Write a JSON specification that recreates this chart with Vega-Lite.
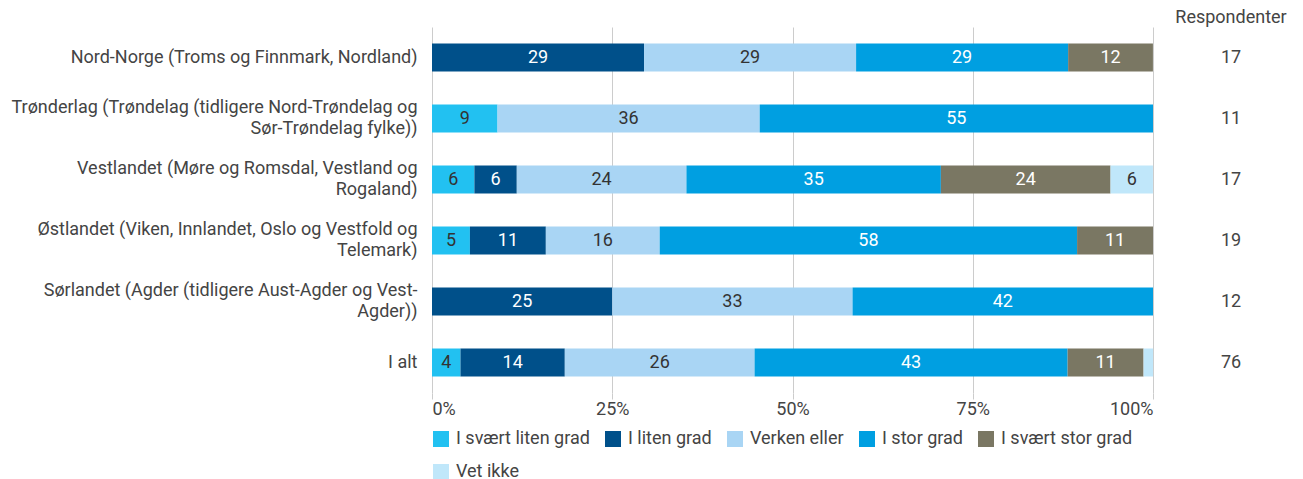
{
  "$schema": "https://vega.github.io/schema/vega-lite/v6.json",
  "background": "white",
  "padding": {"left": 10, "top": 9, "right": 5, "bottom": 5},
  "spacing": 21,
  "config": {
    "font": "Roboto",
    "view": {"stroke": null},
    "concat": {"spacing": 21}
  },
  "datasets": {
    "resp": [
      {"region": "Nord-Norge (Troms og Finnmark, Nordland)", "cat": "I liten grad", "k": 2, "value": 29.41},
      {"region": "Nord-Norge (Troms og Finnmark, Nordland)", "cat": "Verken eller", "k": 3, "value": 29.41},
      {"region": "Nord-Norge (Troms og Finnmark, Nordland)", "cat": "I stor grad", "k": 4, "value": 29.41},
      {"region": "Nord-Norge (Troms og Finnmark, Nordland)", "cat": "I svært stor grad", "k": 5, "value": 11.76},
      {"region": "Trønderlag (Trøndelag (tidligere Nord-Trøndelag og\nSør-Trøndelag fylke))", "cat": "I svært liten grad", "k": 1, "value": 9.09},
      {"region": "Trønderlag (Trøndelag (tidligere Nord-Trøndelag og\nSør-Trøndelag fylke))", "cat": "Verken eller", "k": 3, "value": 36.36},
      {"region": "Trønderlag (Trøndelag (tidligere Nord-Trøndelag og\nSør-Trøndelag fylke))", "cat": "I stor grad", "k": 4, "value": 54.55},
      {"region": "Vestlandet (Møre og Romsdal, Vestland og\nRogaland)", "cat": "I svært liten grad", "k": 1, "value": 5.88},
      {"region": "Vestlandet (Møre og Romsdal, Vestland og\nRogaland)", "cat": "I liten grad", "k": 2, "value": 5.88},
      {"region": "Vestlandet (Møre og Romsdal, Vestland og\nRogaland)", "cat": "Verken eller", "k": 3, "value": 23.53},
      {"region": "Vestlandet (Møre og Romsdal, Vestland og\nRogaland)", "cat": "I stor grad", "k": 4, "value": 35.29},
      {"region": "Vestlandet (Møre og Romsdal, Vestland og\nRogaland)", "cat": "I svært stor grad", "k": 5, "value": 23.53},
      {"region": "Vestlandet (Møre og Romsdal, Vestland og\nRogaland)", "cat": "Vet ikke", "k": 6, "value": 5.88},
      {"region": "Østlandet (Viken, Innlandet, Oslo og Vestfold og\nTelemark)", "cat": "I svært liten grad", "k": 1, "value": 5.26},
      {"region": "Østlandet (Viken, Innlandet, Oslo og Vestfold og\nTelemark)", "cat": "I liten grad", "k": 2, "value": 10.53},
      {"region": "Østlandet (Viken, Innlandet, Oslo og Vestfold og\nTelemark)", "cat": "Verken eller", "k": 3, "value": 15.79},
      {"region": "Østlandet (Viken, Innlandet, Oslo og Vestfold og\nTelemark)", "cat": "I stor grad", "k": 4, "value": 57.89},
      {"region": "Østlandet (Viken, Innlandet, Oslo og Vestfold og\nTelemark)", "cat": "I svært stor grad", "k": 5, "value": 10.53},
      {"region": "Sørlandet (Agder (tidligere Aust-Agder og Vest-\nAgder))", "cat": "I liten grad", "k": 2, "value": 25},
      {"region": "Sørlandet (Agder (tidligere Aust-Agder og Vest-\nAgder))", "cat": "Verken eller", "k": 3, "value": 33.33},
      {"region": "Sørlandet (Agder (tidligere Aust-Agder og Vest-\nAgder))", "cat": "I stor grad", "k": 4, "value": 41.67},
      {"region": "I alt", "cat": "I svært liten grad", "k": 1, "value": 3.95},
      {"region": "I alt", "cat": "I liten grad", "k": 2, "value": 14.47},
      {"region": "I alt", "cat": "Verken eller", "k": 3, "value": 26.32},
      {"region": "I alt", "cat": "I stor grad", "k": 4, "value": 43.42},
      {"region": "I alt", "cat": "I svært stor grad", "k": 5, "value": 10.53},
      {"region": "I alt", "cat": "Vet ikke", "k": 6, "value": 1.32}
    ],
    "counts": [
      {"region": "Nord-Norge (Troms og Finnmark, Nordland)", "n": 17},
      {"region": "Trønderlag (Trøndelag (tidligere Nord-Trøndelag og\nSør-Trøndelag fylke))", "n": 11},
      {"region": "Vestlandet (Møre og Romsdal, Vestland og\nRogaland)", "n": 17},
      {"region": "Østlandet (Viken, Innlandet, Oslo og Vestfold og\nTelemark)", "n": 19},
      {"region": "Sørlandet (Agder (tidligere Aust-Agder og Vest-\nAgder))", "n": 12},
      {"region": "I alt", "n": 76}
    ]
  },
  "hconcat": [
    {
      "width": 721,
      "height": 366,
      "data": {"name": "resp"},
      "transform": [
        {"stack": "value", "groupby": ["region"], "sort": [{"field": "k", "order": "ascending"}], "as": ["v0", "v1"]},
        {"calculate": "(datum.v0 + datum.v1) / 2", "as": "mid"}
      ],
      "encoding": {
        "y": {
          "field": "region",
          "type": "nominal",
          "sort": null,
          "title": null,
          "axis": {
            "labelExpr": "split(datum.label, '\\n')",
            "labelFontSize": 18,
            "labelColor": "#444",
            "labelPadding": 15,
            "labelLimit": 600,
            "labelLineHeight": 21,
            "labelOffset": {"condition": {"test": "indexof(datum.label, '\\n') >= 0", "value": -10.5}, "value": 0},
            "ticks": false,
            "domain": false
          }
        }
      },
      "layer": [
        {
          "mark": {"type": "bar", "height": 28},
          "encoding": {
            "x": {
              "field": "v0",
              "type": "quantitative",
              "scale": {"domain": [0, 100], "nice": false},
              "title": null,
              "axis": {
                "values": [0, 25, 50, 75, 100],
                "labelExpr": "datum.value + '%'",
                "labelFlush": true,
                "labelFontSize": 18,
                "labelColor": "#444",
                "labelPadding": 1,
                "grid": true,
                "gridColor": "#cccccc",
                "tickColor": "#cccccc",
                "tickSize": 6,
                "domain": false
              }
            },
            "x2": {"field": "v1"},
            "color": {
              "field": "cat",
              "type": "nominal",
              "scale": {
                "domain": ["I svært liten grad", "I liten grad", "Verken eller", "I stor grad", "I svært stor grad", "Vet ikke"],
                "range": ["#22C1F1", "#00508A", "#A9D5F4", "#009FE1", "#7A7763", "#C0E7FA"]
              },
              "legend": {
                "title": null,
                "orient": "bottom",
                "columns": 5,
                "symbolType": "square",
                "symbolSize": 256,
                "symbolStrokeWidth": 0,
                "labelFontSize": 18,
                "labelColor": "#444",
                "labelOffset": 6,
                "columnPadding": 14,
                "rowPadding": 15,
                "offset": 12
              }
            }
          }
        },
        {
          "transform": [{"filter": "datum.value >= 3"}],
          "mark": {"type": "text", "fontSize": 18},
          "encoding": {
            "x": {"field": "mid", "type": "quantitative"},
            "text": {"field": "value", "type": "quantitative", "format": ".0f"},
            "color": {
              "condition": {"test": "indexof(['I liten grad', 'I stor grad', 'I svært stor grad'], datum.cat) >= 0", "value": "white"},
              "value": "#333333"
            }
          }
        }
      ]
    },
    {
      "width": 100,
      "height": 366,
      "data": {"name": "counts"},
      "title": {"text": "Respondenter", "fontSize": 18, "fontWeight": "normal", "color": "#444", "anchor": "middle", "dx": 0, "offset": 0},
      "mark": {"type": "text", "fontSize": 18, "color": "#444"},
      "encoding": {
        "y": {"field": "region", "type": "nominal", "sort": null, "axis": null},
        "text": {"field": "n", "type": "quantitative"}
      }
    }
  ]
}
